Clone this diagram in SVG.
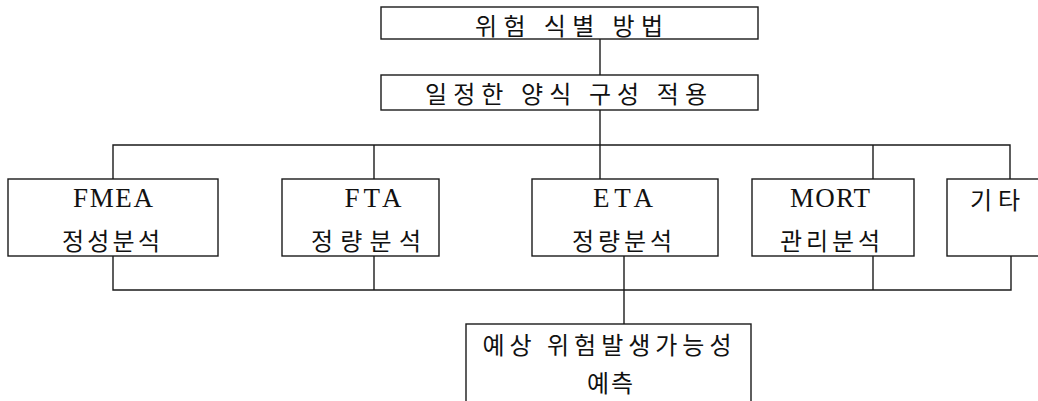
<svg xmlns="http://www.w3.org/2000/svg" width="1038" height="401" viewBox="0 0 1038 401">
<style>
.box{fill:#fff;stroke:#1a1a1a;stroke-width:1.4}
.ln{fill:none;stroke:#1a1a1a;stroke-width:1.4}
.ko{font-family:"Noto Sans CJK KR","Noto Sans CJK SC",sans-serif;font-size:24px;fill:#111;text-anchor:middle}
.en{font-family:"Liberation Serif",serif;font-size:27px;fill:#111;text-anchor:middle}
</style>
<rect width="1038" height="401" fill="#fff"/>
<g id="connectors">
<line class="ln" x1="600" y1="39" x2="600" y2="75"/>
<line class="ln" x1="600" y1="110" x2="600" y2="179"/>
<polyline class="ln" points="113,179 113,145 1010,145 1010,179"/>
<line class="ln" x1="374" y1="145" x2="374" y2="179"/>
<line class="ln" x1="873" y1="145" x2="873" y2="179"/>
<polyline class="ln" points="113,256 113,290 1011,290 1011,256"/>
<line class="ln" x1="374" y1="256" x2="374" y2="290"/>
<line class="ln" x1="873" y1="256" x2="873" y2="290"/>
<line class="ln" x1="624" y1="256" x2="624" y2="324"/>
</g>
<g id="n-top">
<rect class="box" x="381" y="7" width="377" height="32"/>
<text class="ko" x="569" y="35" textLength="188" lengthAdjust="spacing">위험 식별 방법</text>
</g>
<g id="n-form">
<rect class="box" x="381" y="75" width="377" height="35"/>
<text class="ko" x="566" y="103" textLength="282" lengthAdjust="spacing">일정한 양식 구성 적용</text>
</g>
<g id="n-fmea">
<rect class="box" x="8" y="179" width="210" height="77"/>
<text class="en" x="113" y="207" textLength="80" lengthAdjust="spacing">FMEA</text>
<text class="ko" x="111" y="250" textLength="98" lengthAdjust="spacing">정성분석</text>
</g>
<g id="n-fta">
<rect class="box" x="282" y="179" width="157" height="77"/>
<text class="en" x="373" y="207" textLength="57" lengthAdjust="spacing">FTA</text>
<text class="ko" x="366" y="250" textLength="110" lengthAdjust="spacing">정량분석</text>
</g>
<g id="n-eta">
<rect class="box" x="532" y="179" width="186" height="77"/>
<text class="en" x="623" y="207" textLength="60" lengthAdjust="spacing">ETA</text>
<text class="ko" x="622" y="250" textLength="100" lengthAdjust="spacing">정량분석</text>
</g>
<g id="n-mort">
<rect class="box" x="752" y="179" width="162" height="77"/>
<text class="en" x="830" y="207" textLength="80" lengthAdjust="spacing">MORT</text>
<text class="ko" x="830" y="250" textLength="100" lengthAdjust="spacing">관리분석</text>
</g>
<g id="n-etc">
<rect class="box" x="947" y="179" width="100" height="77"/>
<text class="ko" x="995" y="209" textLength="50" lengthAdjust="spacing">기타</text>
</g>
<g id="n-predict">
<rect class="box" x="466" y="324" width="285" height="90"/>
<text class="ko" x="607" y="354" textLength="249" lengthAdjust="spacing">예상 위험발생가능성</text>
<text class="ko" x="610" y="392" textLength="46" lengthAdjust="spacing">예측</text>
</g>
</svg>
